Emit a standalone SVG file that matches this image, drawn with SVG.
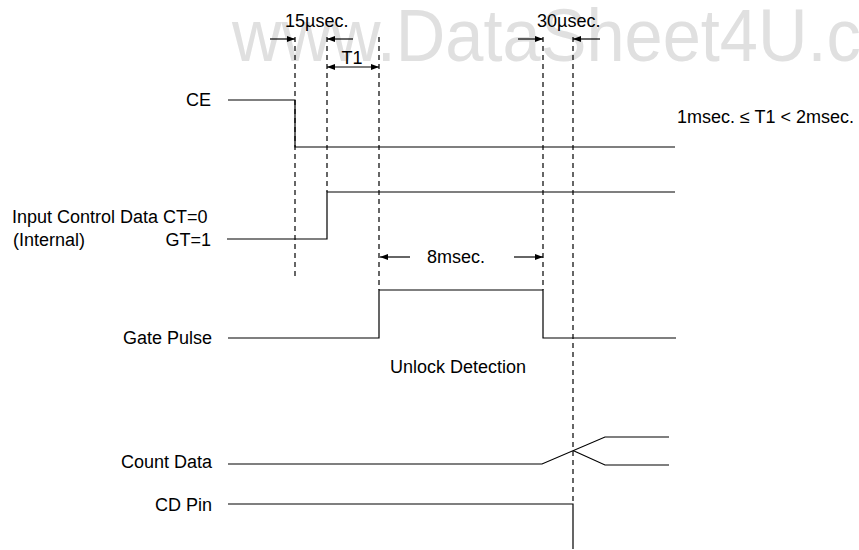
<svg xmlns="http://www.w3.org/2000/svg" width="859" height="550" viewBox="0 0 859 550">
<defs>
<style>
text{font-family:"Liberation Sans",Arial,sans-serif;font-size:18px;fill:#000}
.r{text-anchor:end}
.m{text-anchor:middle}
.wm{font-size:74px;fill:#e0e0e0}
.sig{fill:none;stroke:#000;stroke-width:1.2}
.dash{fill:none;stroke:#000;stroke-width:1.2;stroke-dasharray:5,4}
.arr{fill:none;stroke:#000;stroke-width:1.2}
</style>
<marker id="ah" markerWidth="8" markerHeight="6" refX="8" refY="3" orient="auto" markerUnits="userSpaceOnUse">
<path d="M0,0 L8,3 L0,6 Z" fill="#000"/>
</marker>
<marker id="ahs" markerWidth="8" markerHeight="6" refX="0" refY="3" orient="auto" markerUnits="userSpaceOnUse">
<path d="M8,0 L0,3 L8,6 Z" fill="#000"/>
</marker>
</defs>
<rect width="859" height="550" fill="#fff"/>
<text class="wm" x="232" y="61" textLength="667" lengthAdjust="spacingAndGlyphs">www.DataSheet4U.co</text>

<g id="guides">
<path class="dash" d="M295,37 V280"/>
<path class="dash" d="M327,37 V192"/>
<path class="dash" d="M379,37 V290"/>
<path class="dash" d="M543,37 V290"/>
<path class="dash" d="M573,37 V504"/>
</g>

<g id="connectors">
<path class="arr" d="M270,39 H295" marker-end="url(#ah)"/>
<path class="arr" d="M353,39 H327" marker-end="url(#ah)"/>
<path class="arr" d="M327,67 H379" marker-start="url(#ahs)" marker-end="url(#ah)"/>
<path class="arr" d="M518,39 H543" marker-end="url(#ah)"/>
<path class="arr" d="M600,39 H573" marker-end="url(#ah)"/>
<path class="arr" d="M410,257 H380" marker-end="url(#ah)"/>
<path class="arr" d="M514,257 H543" marker-end="url(#ah)"/>
</g>

<g id="timing-labels">
<text x="285" y="27">15µsec.</text>
<text class="m" x="352" y="64">T1</text>
<text x="537" y="27">30µsec.</text>
<text x="677" y="123">1msec. ≤ T1 &lt; 2msec.</text>
<text x="427" y="263">8msec.</text>
<text x="390" y="373">Unlock Detection</text>
</g>

<g id="ce">
<text class="r" x="211" y="106">CE</text>
<path class="sig" d="M228,100 H295 V147 H675"/>
</g>

<g id="input-control">
<text x="12" y="223">Input Control Data CT=0</text>
<text x="13" y="246">(Internal)</text>
<text class="r" x="211" y="246">GT=1</text>
<path class="sig" d="M227,239 H327 V192 H675"/>
</g>

<g id="gate-pulse">
<text class="r" x="212" y="344">Gate Pulse</text>
<path class="sig" d="M228,338 H379 V290 H543 V338 H676"/>
</g>

<g id="count-data">
<text class="r" x="212" y="468">Count Data</text>
<path class="sig" d="M228,464 H542 L605,437 H669"/>
<path class="sig" d="M573,450.5 L605,465 H669"/>
</g>

<g id="cd-pin">
<text class="r" x="212" y="511">CD Pin</text>
<path class="sig" d="M228,504 H573 V549"/>
</g>
</svg>
